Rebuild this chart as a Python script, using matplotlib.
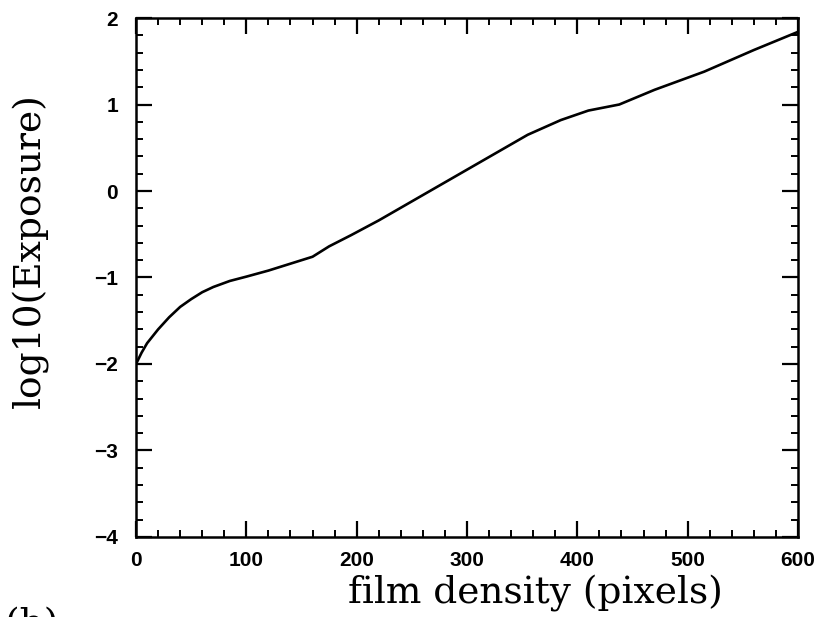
import matplotlib
matplotlib.use("Agg")
import matplotlib.pyplot as plt
from matplotlib.ticker import MultipleLocator

# characteristic curve of the film: density vs. log exposure
density = [0, 5, 10, 20, 30, 40, 50, 60, 70, 85, 100, 120, 140, 160, 175,
           195, 220, 265, 310, 355, 385, 410, 438, 470, 515, 560, 600]
log_exposure = [-2.0, -1.87, -1.76, -1.60, -1.46, -1.34, -1.25, -1.17, -1.11,
                -1.04, -0.99, -0.92, -0.84, -0.76, -0.64, -0.51, -0.34, -0.01,
                0.32, 0.65, 0.82, 0.93, 1.0, 1.17, 1.38, 1.63, 1.84]

x_ticks = [0, 100, 200, 300, 400, 500, 600]
y_ticks = [-4, -3, -2, -1, 0, 1, 2]

fig = plt.figure(figsize=(8.22, 6.17), dpi=100, facecolor="white")
ax = fig.add_axes([0.1655, 0.1297, 0.8053, 0.8411])

ax.plot(density, log_exposure, color="black", linewidth=1.9)

ax.set_xlim(0, 600)
ax.set_ylim(-4, 2)
ax.set_xticks(x_ticks)
ax.set_yticks(y_ticks)
ax.xaxis.set_minor_locator(MultipleLocator(20))
ax.yaxis.set_minor_locator(MultipleLocator(0.2))

ax.tick_params(which="both", direction="in", top=True, right=True,
               color="black")
ax.tick_params(which="major", length=11.5, width=1.6)
ax.tick_params(which="minor", length=5, width=1.4)
ax.tick_params(axis="x", which="major", pad=10)
ax.tick_params(axis="y", which="major", pad=13)

for lab in ax.get_xticklabels() + ax.get_yticklabels():
    lab.set_fontfamily("Liberation Sans")
    lab.set_fontweight("bold")
    lab.set_fontsize(15)

for sp in ax.spines.values():
    sp.set_linewidth(1.8)

ax.set_xlabel("film density (pixels)", family="DejaVu Serif", fontsize=27,
              va="center")
ax.xaxis.set_label_coords(0.603, -0.108)
ax.set_ylabel("log10(Exposure)", family="DejaVu Serif", fontsize=27,
              va="center")
ax.yaxis.set_label_coords(-0.160, 0.551)

# panel tag, partly off the bottom edge
fig.text(0.006, 0.016, "(b)", family="DejaVu Serif", fontsize=27,
         va="top", ha="left")

fig.savefig("out.png", dpi=100, facecolor="white")
